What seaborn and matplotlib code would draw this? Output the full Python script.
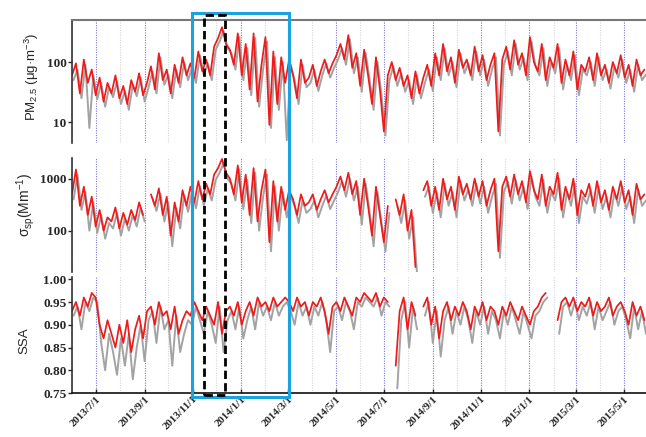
import numpy as np
import pandas as pd
import matplotlib
matplotlib.use("Agg")
import matplotlib.pyplot as plt
from matplotlib.patches import Rectangle
from matplotlib.ticker import FixedLocator, FixedFormatter, NullLocator
import seaborn as sns

nan = np.nan

# ---------------- data (5-day samples) ----------------
red_start = "2013-06-01"
gray_start = "2013-06-03"
step_days = 5

pm25_red = [60, 95, 30, 110, 45, 75, 28, 55, 22, 45,
            30, 60, 25, 40, 20, 50, 32, 65, 28, 45,
            85, 35, 140, 50, 75, 30, 90, 45, 120, 60,
            95, 55, 150, 70, 110, 60, 180, 250, 380, 200,
            160, 90, 300, 60, 200, 35, 300, 22, 90, 260,
            9, 150, 20, 120, 45, 110, 60, 25, 110, 45,
            55, 90, 40, 70, 110, 65, 95, 130, 200, 110,
            280, 80, 140, 40, 160, 60, 20, 120, 35, 7,
            60, 100, 50, 80, 40, 60, 25, 70, 30, 55,
            90, 40, 140, 60, 200, 70, 120, 45, 160, 80,
            110, 60, 180, 70, 130, 50, 90, 140, 7, 110,
            180, 75, 230, 90, 140, 60, 260, 100, 70, 200,
            50, 120, 80, 200, 45, 110, 60, 150, 35, 90,
            70, 120, 50, 140, 60, 90, 45, 100, 65, 130,
            55, 90, 40, 110, 60, 75]
pm25_gray = [50, 75, 25, 90, 8, 60, 24, 45, 18, 38,
             26, 48, 20, 33, 16, 42, 27, 55, 22, 38,
             70, 30, 120, 42, 62, 25, 75, 38, 100, 50,
             80, 45, 130, 60, 95, 50, 160, 220, 330, 170,
             140, 75, 260, 50, 170, 28, 250, 18, 75, 220,
             8, 120, 16, 100, 5, 90, 50, 20, 90, 38,
             45, 75, 33, 60, 95, 55, 80, 110, 170, 90,
             240, 65, 120, 32, 140, 50, 16, 100, 28, 6,
             50, 85, 40, 65, 32, 50, 20, 60, 25, 45,
             75, 33, 120, 50, 170, 60, 100, 38, 140, 65,
             95, 50, 150, 60, 110, 40, 75, 120, 6, 90,
             150, 60, 200, 75, 120, 50, 220, 85, 60, 170,
             40, 100, 65, 170, 35, 90, 50, 130, 28, 75,
             60, 100, 40, 120, 50, 75, 36, 85, 55, 110,
             45, 75, 32, 90, 50, 62]

sigma_red = [500, 1500, 300, 700, 200, 450, 120, 250, 100, 180,
             150, 280, 110, 220, 130, 250, 160, 350, 200, nan,
             500, 300, 650, 200, 450, 80, 350, 150, 600, 300,
             700, 350, 900, 400, 800, 500, 1200, 1600, 2400, 1300,
             1000, 500, 1800, 350, 1200, 200, 1600, 150, 600, 1500,
             60, 900, 150, 700, 250, 600, 400, 200, 500, 300,
             350, 500, 250, 400, 600, 350, 500, 700, 1100, 600,
             1300, 500, 900, 200, 1000, 300, 80, 700, 200, 60,
             300, nan, 400, 200, 500, 100, 250, 20, nan, 600,
             900, 300, 700, 250, 1000, 400, 700, 250, 1100, 500,
             800, 400, 1000, 450, 900, 300, 600, 1000, 40, 700,
             1100, 450, 1200, 500, 900, 350, 1400, 600, 400, 1200,
             300, 700, 500, 1300, 250, 700, 400, 1000, 200, 600,
             450, 800, 300, 900, 350, 600, 250, 700, 400, 900,
             350, 600, 200, 800, 400, 500]
sigma_gray = [400, 1200, 250, 550, 100, 350, 90, 200, 70, 140,
              110, 220, 80, 170, 100, 200, 120, 280, 150, nan,
              420, 240, 520, 150, 350, 50, 270, 110, 480, 230,
              560, 270, 720, 300, 650, 380, 950, 1300, 2000, 1000,
              800, 380, 1500, 260, 950, 140, 1300, 100, 450, 1200,
              40, 700, 100, 550, 180, 450, 300, 140, 380, 220,
              260, 380, 180, 300, 470, 260, 380, 550, 900, 450,
              1000, 380, 700, 130, 800, 220, 50, 550, 140, 40,
              220, nan, 300, 140, 380, 70, 180, 15, nan, 450,
              700, 220, 550, 180, 800, 300, 550, 180, 900, 380,
              620, 300, 800, 330, 700, 220, 450, 800, 30, 550,
              880, 330, 950, 380, 700, 260, 1100, 450, 300, 950,
              220, 550, 380, 1000, 180, 550, 300, 800, 140, 450,
              330, 620, 220, 700, 260, 450, 180, 550, 300, 700,
              260, 450, 140, 620, 300, 380]

ssa_red = [0.93, 0.95, 0.92, 0.96, 0.94, 0.97, 0.96, 0.90, 0.87, 0.91,
           0.88, 0.85, 0.90, 0.86, 0.91, 0.84, 0.89, 0.92, 0.87, 0.93,
           0.94, 0.90, 0.95, 0.92, 0.93, 0.89, 0.94, 0.88, 0.91, 0.93,
           0.92, 0.95, 0.93, 0.91, 0.94, 0.92, 0.90, 0.95, 0.88, 0.93,
           0.94, 0.92, 0.95, 0.90, 0.93, 0.95, 0.92, 0.96, 0.94, 0.95,
           0.93, 0.96, 0.94, 0.95, 0.96, 0.95, 0.93, 0.96, 0.94, 0.95,
           0.92, 0.95, 0.94, 0.96, 0.93, 0.88, 0.94, 0.95, 0.93, 0.96,
           0.94, 0.92, 0.96, 0.95, 0.97, 0.96, 0.95, 0.97, 0.94, 0.96,
           0.95, nan, 0.81, 0.93, 0.96, 0.89, 0.95, 0.92, nan, 0.94,
           0.96, 0.90, 0.94, 0.87, 0.93, 0.95, 0.91, 0.94, 0.92, 0.95,
           0.93, 0.89, 0.94, 0.92, 0.95, 0.91, 0.94, 0.93, 0.90, 0.94,
           0.92, 0.95, 0.93, 0.91, 0.94, 0.92, 0.90, 0.93, 0.94, 0.96,
           0.97, nan, nan, 0.91, 0.95, 0.96, 0.94, 0.96, 0.93, 0.95,
           0.94, 0.96, 0.92, 0.95, 0.93, 0.94, 0.96, 0.92, 0.94, 0.95,
           0.93, 0.90, 0.95, 0.92, 0.94, 0.91]
ssa_gray = [0.92, 0.94, 0.89, 0.95, 0.93, 0.96, 0.95, 0.86, 0.80, 0.88,
            0.84, 0.79, 0.87, 0.81, 0.88, 0.78, 0.85, 0.90, 0.82, 0.91,
            0.93, 0.86, 0.94, 0.89, 0.91, 0.81, 0.92, 0.84, 0.88, 0.91,
            0.90, 0.94, 0.91, 0.88, 0.93, 0.90, 0.86, 0.94, 0.84, 0.91,
            0.93, 0.89, 0.94, 0.87, 0.91, 0.94, 0.89, 0.95, 0.92, 0.94,
            0.91, 0.95, 0.92, 0.94, 0.95, 0.93, 0.90, 0.95, 0.92, 0.94,
            0.90, 0.94, 0.92, 0.95, 0.91, 0.84, 0.93, 0.94, 0.91, 0.95,
            0.93, 0.89, 0.95, 0.94, 0.96, 0.95, 0.94, 0.96, 0.92, 0.95,
            0.94, nan, 0.76, 0.91, 0.95, 0.85, 0.94, 0.89, nan, 0.92,
            0.95, 0.86, 0.93, 0.83, 0.91, 0.94, 0.88, 0.93, 0.90, 0.94,
            0.91, 0.86, 0.93, 0.90, 0.94, 0.88, 0.93, 0.91, 0.87, 0.93,
            0.90, 0.94, 0.91, 0.88, 0.93, 0.90, 0.87, 0.92, 0.93, 0.95,
            0.96, nan, nan, 0.88, 0.94, 0.95, 0.92, 0.95, 0.91, 0.94,
            0.92, 0.95, 0.89, 0.94, 0.91, 0.93, 0.95, 0.90, 0.93, 0.94,
            0.91, 0.87, 0.94, 0.89, 0.93, 0.88]

tick_dates = ["2013-07-01", "2013-09-01", "2013-11-01", "2014-01-01", "2014-03-01",
              "2014-05-01", "2014-07-01", "2014-09-01", "2014-11-01", "2015-01-01",
              "2015-03-01", "2015-05-01"]
tick_labels = ["2013/7/1", "2013/9/1", "2013/11/1", "2014/1/1", "2014/3/1",
               "2014/5/1", "2014/7/1", "2014/9/1", "2014/11/1", "2015/1/1",
               "2015/3/1", "2015/5/1"]

ylabels = ["PM$_{2.5}$ (μg·m$^{-3}$)", "σ$_{\\rm sp}$(Mm$^{-1}$)", "SSA"]

# ---------------- figure ----------------
sns.set_style("white")
plt.rcParams["font.family"] = ["Liberation Sans", "DejaVu Sans"]
plt.rcParams["mathtext.fontset"] = "custom"
plt.rcParams["mathtext.rm"] = "Liberation Sans"
plt.rcParams["mathtext.it"] = "Liberation Sans:italic"

W, H = 646, 437
fig = plt.figure(figsize=(W / 100, H / 100), dpi=100)

def fx(px):
    return px / W

def fy(py):
    return 1 - py / H

panels = [(20, 143), (158, 272), (277, 393)]
x0, x1 = 72, 646
axes = []
for top, bot in panels:
    ax = fig.add_axes([fx(x0), fy(bot), fx(x1) - fx(x0), fy(top) - fy(bot)])
    axes.append(ax)

def frame(values, start):
    d = pd.DataFrame({"date": pd.date_range(start, periods=len(values), freq=f"{step_days}D"),
                      "v": np.array(values, dtype=float)})
    d["seg"] = d["v"].isna().cumsum()
    return d.dropna()

series = [(pm25_gray, pm25_red), (sigma_gray, sigma_red), (ssa_gray, ssa_red)]
xlim = (pd.Timestamp("2013-06-01"), pd.Timestamp("2015-05-29"))
months = pd.date_range("2013-06-01", "2015-05-01", freq="MS")
odd_set = set(pd.to_datetime(tick_dates))
serif = ["Liberation Serif", "DejaVu Serif"]

for ax, (g, r) in zip(axes, series):
    for m in months:
        if m in odd_set:
            ax.axvline(m, color="#7b7bd0", ls=(0, (1, 1.2)), lw=0.8, zorder=0)
        else:
            ax.axvline(m, color="#d4d4dc", ls=(0, (1, 1.2)), lw=0.8, zorder=0)
    sns.lineplot(data=frame(g, gray_start), x="date", y="v", units="seg", estimator=None,
                 color="#a3a3a3", lw=1.4, ax=ax)
    sns.lineplot(data=frame(r, red_start), x="date", y="v", units="seg", estimator=None,
                 color="#ee1b1b", lw=1.25, ax=ax)
    ax.set_xlim(*xlim)
    ax.set_xlabel("")
    ax.set_ylabel("")
    for s in ["top", "right", "bottom"]:
        ax.spines[s].set_visible(False)
    ax.spines["left"].set_color("#333333")
    ax.spines["left"].set_linewidth(1.2)
    ax.tick_params(axis="y", direction="out", length=3, width=1, pad=1, left=True)
    ax.tick_params(axis="x", bottom=False, labelbottom=False)

# panel 1
axes[0].set_yscale("log")
axes[0].set_ylim(4.5, 500)
axes[0].yaxis.set_major_locator(FixedLocator([10, 100]))
axes[0].yaxis.set_major_formatter(FixedFormatter(["10", "100"]))
axes[0].yaxis.set_minor_locator(NullLocator())
axes[0].spines["top"].set_visible(True)
axes[0].spines["top"].set_color("#777777")
axes[0].spines["top"].set_linewidth(1.5)

# panel 2
axes[1].set_yscale("log")
axes[1].set_ylim(16, 2500)
axes[1].yaxis.set_major_locator(FixedLocator([100, 1000]))
axes[1].yaxis.set_major_formatter(FixedFormatter(["100", "1000"]))
axes[1].yaxis.set_minor_locator(NullLocator())

# panel 3
ax3 = axes[2]
ax3.set_ylim(0.75, 1.005)
ax3.set_yticks([0.75, 0.80, 0.85, 0.90, 0.95, 1.00])
ax3.set_yticklabels(["0.75", "0.80", "0.85", "0.90", "0.95", "1.00"])
ax3.spines["bottom"].set_visible(True)
ax3.spines["bottom"].set_color("#111111")
ax3.spines["bottom"].set_linewidth(1.2)
ax3.set_xticks(pd.to_datetime(tick_dates))
ax3.set_xticklabels(tick_labels)
ax3.tick_params(axis="x", bottom=True, labelbottom=True, direction="in", length=3, width=1, pad=1)
for lab in ax3.get_xticklabels():
    lab.set_rotation(45)
    lab.set_ha("right")
    lab.set_rotation_mode("anchor")
    lab.set_family(serif)
    lab.set_fontweight("bold")
    lab.set_fontsize(7.8)

for ax in axes:
    for lab in ax.get_yticklabels():
        lab.set_family(serif)
        lab.set_fontweight("bold")
        lab.set_fontsize(9.5)

# y labels
fig.text(fx(32), fy(77), ylabels[0], rotation=90, ha="center", va="center", fontsize=9.5)
fig.text(fx(26), fy(205), ylabels[1], rotation=90, ha="center", va="center", fontsize=10)
fig.text(fx(24), fy(341), ylabels[2], rotation=90, ha="center", va="center", fontsize=9.5)

# highlight rectangles
fig.add_artist(Rectangle((fx(192), fy(397)), fx(289) - fx(192), fy(13) - fy(397),
                         transform=fig.transFigure, fill=False, ec="#1aa3e0", lw=2.2, zorder=10))
fig.add_artist(Rectangle((fx(204), fy(395)), fx(225) - fx(204), fy(15) - fy(395),
                         transform=fig.transFigure, fill=False, ec="black", lw=2.0,
                         ls=(0, (3, 1.5)), zorder=11))

fig.savefig("out.png", dpi=100)
